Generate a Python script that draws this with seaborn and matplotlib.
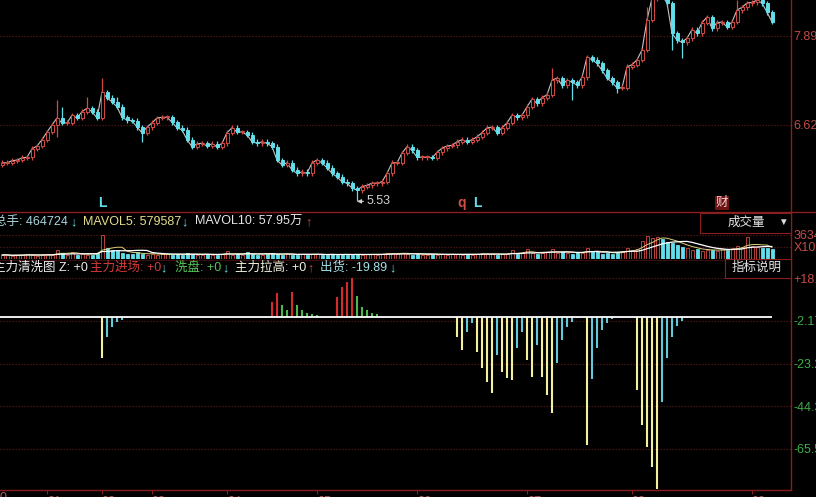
import numpy as np
import pandas as pd
import matplotlib
matplotlib.use("Agg")
import matplotlib.pyplot as plt
import matplotlib.patches as mpatches
import matplotlib.transforms as mtrans
import seaborn as sns

W, H = 816, 497

RED = "#d44a44"
CYAN = "#62deea"
GRID = "#561818"
AXIS_RED = "#8a1e1e"
RED_TXT = "#c44a4a"
GREEN_TXT = "#3fae46"

# ---- price panel data (daily closes) ----
closes = [
    6.08, 6.08, 6.11, 6.12, 6.15, 6.16, 6.28, 6.32, 6.41, 6.52,
    6.62, 6.72, 6.65, 6.65, 6.76, 6.72, 6.81, 6.86, 6.81, 6.72,
    7.09, 7.01, 6.95, 6.88, 6.73, 6.69, 6.68, 6.59, 6.51, 6.59,
    6.65, 6.72, 6.73, 6.73, 6.66, 6.58, 6.55, 6.41, 6.31, 6.35,
    6.36, 6.32, 6.35, 6.31, 6.36, 6.51, 6.58, 6.52, 6.52, 6.48,
    6.38, 6.36, 6.38, 6.36, 6.31, 6.12, 6.05, 6.08, 5.98, 5.93,
    5.95, 5.93, 6.08, 6.12, 6.08, 6.01, 5.93, 5.88, 5.81, 5.79,
    5.72, 5.69, 5.74, 5.76, 5.79, 5.79, 5.81, 5.93, 6.08, 6.08,
    6.22, 6.31, 6.26, 6.16, 6.16, 6.16, 6.15, 6.23, 6.29, 6.32,
    6.33, 6.38, 6.41, 6.38, 6.41, 6.45, 6.51, 6.58, 6.59, 6.51,
    6.58, 6.65, 6.76, 6.73, 6.76, 6.88, 6.99, 6.93, 7.01, 7.05,
    7.26, 7.29, 7.19, 7.26, 7.23, 7.19, 7.30, 7.59, 7.55, 7.50,
    7.40, 7.29, 7.23, 7.15, 7.15, 7.45, 7.48, 7.55, 7.69, 8.12,
    8.43, 8.52, 8.47, 8.36, 7.93, 7.83, 7.80, 7.86, 7.98, 7.93,
    8.08, 8.16, 8.00, 8.08, 8.09, 8.02, 8.09, 8.26, 8.30, 8.36,
    8.37, 8.40, 8.36, 8.23, 8.09,
]
first_open = 6.05
hi_idx = [11, 12, 17, 20, 23, 110, 129, 147]
hi_val = [6.97, 6.88, 7.02, 7.29, 7.02, 7.43, 8.30, 8.40]
lo_idx = [11, 28, 71, 114, 123, 134, 136]
lo_val = [6.45, 6.38, 5.53, 6.98, 7.08, 7.69, 7.58]
price_ticks = [6.62, 7.89]

mark_idx = [20, 92, 95, 144]
mark_txt = ["L", "q", "L", "财"]

# ---- volume (x100 hands) ----
volumes = [
    600, 610, 450, 590, 620, 750, 600, 460, 610, 760, 600,
    1350, 900, 600, 1050, 610, 750, 600, 620, 900, 3634, 1650, 1350, 1200, 900, 750, 760, 1050,
    750, 600, 760, 610, 750, 740, 600, 760, 610, 900, 750, 600, 620, 750, 600, 610, 760,
    1200, 600, 750, 610, 1050,
    750, 600, 620, 750, 900, 760, 600, 750, 610, 600, 760, 620, 750, 740, 600, 610, 750, 600, 760, 620, 600, 750, 610, 760, 740, 600,
    750, 900, 910, 760, 900, 750,
    600, 760, 610, 600, 750, 620, 760, 600, 750, 740, 610, 760, 600, 750, 900, 760, 740, 600, 750,
    760, 1350, 750, 900, 1500, 910, 750, 900, 1050, 1500, 900, 1050, 910, 760, 1050, 900,
    1650, 1200, 1050, 750, 900, 760, 1050, 1200, 1650, 1350, 1500, 2700, 3450, 3150, 3300,
    3000, 2550, 2400, 2100, 1800, 1650, 1350, 1500, 1200, 1350, 1360, 1200, 1500, 1350,
    1650, 1950, 1800, 3300, 1950, 1800, 1650, 1660, 1500,
]
vol_ticks = [3634, 1817]
vol_tick_labels = ["3634", "X100"]

# ---- main-force wash indicator ----
red_idx = [54, 55, 58, 67, 68, 69, 70]
red_val = [7.2, 11.6, 12.1, 9.7, 14.6, 17.1, 19.1]
green_idx = [56, 57, 59, 60, 61, 62, 63, 71, 72, 73, 74, 75]
green_val = [5.7, 3.2, 5.7, 3.2, 1.7, 1.2, 0.8, 10.1, 4.7, 3.2, 1.7, 1.2]
yellow_idx = [20, 91, 92, 95, 96, 97, 98, 100, 101, 102, 105, 106, 108, 109, 110,
              117, 127, 128, 129, 130, 131]
yellow_val = [-20.5, -10.1, -16.6, -17.6, -25.5, -32.4, -37.9, -27.5, -30.4, -31.4,
              -21.5, -29.9, -29.9, -38.9, -47.8, -63.6, -36.4, -53.7, -64.6, -74.5, -85.5]
cyan_idx = [21, 22, 23, 24, 25, 93, 94, 99, 103, 104, 107, 111, 112, 113, 114, 115, 116,
            118, 119, 120, 121, 122, 123, 132, 133, 134, 135, 136, 137, 138]
cyan_val = [-10.1, -5.2, -2.7, -1.7, -0.7, -7.7, -3.2, -19.1, -15.6, -7.7, -14.1,
            -23.0, -11.6, -5.2, -2.7, -0.7, -0.3, -30.9, -15.6, -6.7, -3.2, -1.2, -0.3,
            -42.3, -20.5, -10.1, -4.7, -2.2, -0.7, -0.3]
ind_ticks = [18.94, -2.17, -23.28, -44.39, -65.50]
ind_tick_labels = ["+18.94", "-2.17", "-23.28", "-44.39", "-65.50"]

month_idx = [9, 20, 30, 45, 63, 83, 105, 126, 150]
month_labels = ["01", "02", "03", "04", "05", "06", "07", "08", "09"]

sns.set_theme(style="dark", rc={
    "axes.facecolor": "black", "figure.facecolor": "black",
    "grid.color": GRID, "text.color": "white",
})
plt.rcParams["font.family"] = ["Liberation Sans", "Noto Sans CJK SC", "DejaVu Sans"]

fig = plt.figure(figsize=(W / 100, H / 100), dpi=100)


def px_axes(x0, y0, x1, y1):
    ax = fig.add_axes([x0 / W, 1 - y1 / H, (x1 - x0) / W, (y1 - y0) / H])
    ax.set_facecolor("black")
    for s in ax.spines.values():
        s.set_visible(False)
    ax.set_xlim(-0.4, 157.8)
    ax.grid(False)
    return ax


def dotted_grid(ax):
    ax.grid(axis="y", color=GRID, ls=(0, (1, 1.4)), lw=0.9)


n = len(closes)
idx = np.arange(n)
c = np.array(closes)
o = np.array([first_open] + closes[:-1])
up = c >= o
hi = np.maximum(o, c) + 0.035
lo = np.minimum(o, c) - 0.035
hi[hi_idx] = hi_val
lo[lo_idx] = lo_val
col = np.where(up, RED, CYAN)

# price
ax = px_axes(0, 0, 791, 212)
ax.set_ylim(5.3785, 8.4037)
ax.set_yticks(price_ticks)
ax.set_yticklabels([f"{t:.2f}" for t in price_ticks])
ax.yaxis.tick_right()
ax.tick_params(axis="y", length=0, pad=2, labelcolor=RED_TXT, labelsize=9)
ax.set_xticks([])
dotted_grid(ax)
sns.lineplot(x=idx, y=c, ax=ax, color="#c4c4c4", lw=0.8, zorder=2)
ax.vlines(idx, lo, hi, colors=col, lw=0.9, zorder=3)
body = np.maximum(np.abs(c - o), 0.012)
ax.bar(idx, body, bottom=np.minimum(o, c), width=0.6,
       color=np.where(up, "black", CYAN), edgecolor=col, lw=0.7, zorder=4)
ax.annotate("5.53", xy=(71, 5.53), xytext=(7, 0), textcoords="offset points",
            color="#d0d0d0", fontsize=9, va="center",
            arrowprops=dict(arrowstyle="-|>", color="#d0d0d0", lw=0.8,
                            mutation_scale=6, shrinkA=0, shrinkB=0))
tr = mtrans.blended_transform_factory(ax.transData, ax.transAxes)
for i, t in zip(mark_idx, mark_txt):
    if t == "财":
        ax.text(i, 0.042, t, transform=tr, color="#f3d6d6", fontsize=9, ha="center",
                va="center", bbox=dict(facecolor="#6e1212", edgecolor="none", pad=0.5))
    else:
        ax.text(i, 0.042, t, transform=tr, color=RED if t == "q" else CYAN,
                fontsize=10, ha="center", va="center", fontweight="bold")

# volume
axv = px_axes(0, 233, 791, 259)
v = pd.Series(volumes, dtype=float)
axv.set_ylim(0, 3860)
axv.set_yticks(vol_ticks)
axv.set_yticklabels(vol_tick_labels)
axv.yaxis.tick_right()
axv.tick_params(axis="y", length=0, pad=2, labelcolor=RED_TXT, labelsize=9)
axv.set_xticks([])
dotted_grid(axv)
axv.bar(idx, v, width=0.6, color=np.where(up, "black", CYAN), edgecolor=col, lw=0.6, zorder=3)
sns.lineplot(x=idx, y=v.rolling(5, min_periods=1).mean(), ax=axv, color="#d8d27a", lw=0.7, zorder=4)
sns.lineplot(x=idx, y=v.rolling(10, min_periods=1).mean(), ax=axv, color="white", lw=0.9, zorder=5)

# indicator
axi = px_axes(0, 262, 791, 490)
axi.set_ylim(-85.89, 26.98)
axi.set_yticks(ind_ticks)
axi.set_yticklabels(ind_tick_labels)
axi.yaxis.tick_right()
axi.tick_params(axis="y", length=0, pad=2, labelsize=9)
for k, lab in enumerate(axi.get_yticklabels()):
    lab.set_color(RED_TXT if k == 0 else GREEN_TXT)
dotted_grid(axi)
axi.vlines(red_idx, 0, red_val, colors="#d42c2c", lw=1.5, zorder=3)
axi.vlines(green_idx, 0, green_val, colors="#4cb84c", lw=1.5, zorder=3)
axi.vlines(yellow_idx, 0, yellow_val, colors="#f3ef9c", lw=1.5, zorder=3)
axi.vlines(cyan_idx, 0, cyan_val, colors="#62c9da", lw=1.5, zorder=3)
axi.hlines(0, -0.4, n - 1, colors="white", lw=1.3, zorder=4)
axi.set_xticks(month_idx)
axi.set_xticklabels(month_labels)
axi.tick_params(axis="x", direction="out", length=3, width=0.8, color=AXIS_RED,
                labelcolor="#b85a5a", labelsize=9, pad=1, bottom=True)
for lab in axi.get_xticklabels():
    lab.set_ha("left")
axi.spines["bottom"].set_visible(True)
axi.spines["bottom"].set_color(AXIS_RED)
axi.spines["bottom"].set_linewidth(1.0)

# frame lines
fig.add_artist(plt.Line2D([791 / W, 791 / W], [1, 1 - 490 / H], color=AXIS_RED, lw=1.0))
fig.add_artist(plt.Line2D([0, 1], [1 - 212 / H, 1 - 212 / H], color=AXIS_RED, lw=1.0))
fig.add_artist(plt.Line2D([0, 791 / W], [1 - 260 / H, 1 - 260 / H], color="#3a0e0e", lw=0.8))
fig.text(0 / W, 1 - 492 / H, "0", color="#b85a5a", fontsize=9, va="top")


def px_text(x, y, s, color, **kw):
    kw.setdefault("fontsize", 9)
    fig.text(x / W, 1 - y / H, s, color=color, va="center", ha="left", **kw)


# header rows
for x, s, clr in [(-6, "总手: 464724", "#a9d6de"), (70, "↓", CYAN),
                  (83, "MAVOL5: 579587", "#e4de8a"), (181, "↓", CYAN),
                  (195, "MAVOL10: 57.95万", "#e6e6e6"), (305, "↑", RED)]:
    px_text(x, 222, s, clr, fontweight="bold" if s in "↑↓" else "normal")
for x, s, clr in [(-7, "主力清洗图 Z: +0", "#eeeeee"), (90, "主力进场: +0", "#d43a3a"),
                  (160, "↓", CYAN), (175, "洗盘: +0", "#55c455"), (222, "↓", CYAN),
                  (235, "主力拉高: +0", "#f1f0dc"), (307, "↑", RED),
                  (320, "出货: -19.89", "#a4e0e8"), (389, "↓", CYAN)]:
    px_text(x, 268, s, clr, fontweight="bold" if s in "↑↓" else "normal")

# boxes
fig.add_artist(mpatches.Rectangle((700 / W, 1 - 233 / H), 91 / W, 20 / H, facecolor="black",
                                  edgecolor=AXIS_RED, lw=0.8, zorder=5))
px_text(728, 223, "成交量", "#e6e6e6", zorder=6)
fig.text(783 / W, 1 - 222 / H, "▼", color="#dddddd", fontsize=7, ha="center", va="center", zorder=6)
fig.add_artist(mpatches.Rectangle((725 / W, 1 - 278 / H), 66 / W, 19 / H, facecolor="black",
                                  edgecolor=AXIS_RED, lw=0.8, zorder=5))
px_text(732, 268, "指标说明", "#e6e6e6", zorder=6)

fig.savefig("out.png", dpi=100, facecolor="black")
